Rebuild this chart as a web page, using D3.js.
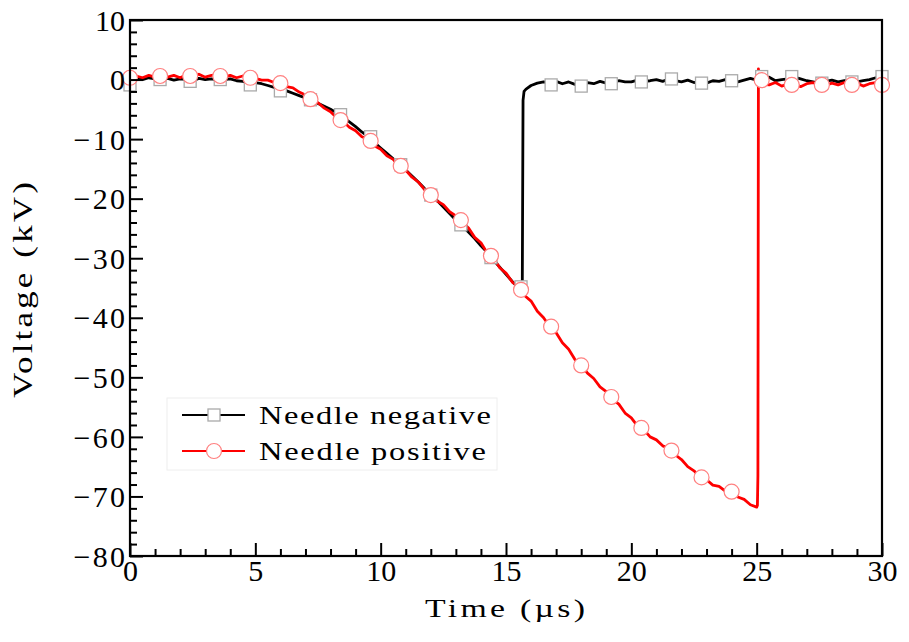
<!DOCTYPE html>
<html><head><meta charset="utf-8">
<script src="https://cdn.jsdelivr.net/npm/d3@7"></script>
<style>body{margin:0;background:#fff}svg{display:block}text{font-family:"Liberation Serif","DejaVu Serif",serif;fill:#000}</style>
</head><body><svg id="c" width="909" height="642"></svg>
<script>
// ---- data ----
const xTicks = [0,5,10,15,20,25,30];
const yTicks = [10,0,-10,-20,-30,-40,-50,-60,-70,-80];
const seriesNames = ["Needle negative","Needle positive"];
const xTitle = "Time (\u00b5s)";
const yTitle = "Voltage (kV)";

const negTime = [0,0.25,0.5,0.75,1,1.25,1.5,1.75,2,2.25,2.5,2.75,3,3.25,3.5,3.75,4,4.25,4.5,4.75,5,5.25,5.5,5.75,6,6.25,6.5,6.75,7,7.25,7.5,7.75,8,8.25,8.5,8.75,9,9.25,9.5,9.75,10,10.25,10.5,10.75,11,11.25,11.5,11.75,12,12.25,12.5,12.75,13,13.25,13.5,13.75,14,14.25,14.5,14.75,15,15.25,15.5,15.6,15.65,15.68,15.72,15.8,16,16.25,16.5,16.75,17,17.25,17.5,17.75,18,18.25,18.5,18.75,19,19.25,19.5,19.75,20,20.25,20.5,20.75,21,21.25,21.5,21.75,22,22.25,22.5,22.75,23,23.25,23.5,23.75,24,24.25,24.5,24.75,25,25.25,25.5,25.75,26,26.25,26.5,26.75,27,27.25,27.5,27.75,28,28.25,28.5,28.75,29,29.25,29.5,29.75,30];
const negVolt = [-0.3,0.2,0.0,0.3,0.1,0.0,0.2,-0.1,0.1,0.0,-0.2,0.2,0.0,0.1,-0.1,0.0,0.1,-0.2,-0.3,-0.6,-0.5,-0.7,-1.0,-1.3,-1.7,-1.9,-2.3,-2.7,-3.1,-3.5,-4.0,-4.5,-5.0,-5.6,-6.3,-7.1,-7.9,-8.8,-9.6,-10.6,-11.5,-12.4,-13.3,-14.2,-15.2,-16.2,-17.2,-18.3,-19.3,-20.3,-21.4,-22.5,-23.6,-24.6,-25.6,-26.7,-27.9,-29.0,-30.3,-31.5,-32.7,-33.9,-35.0,-35.8,-34.5,-3.5,-2.0,-1.6,-1.0,-0.6,-0.4,-0.6,-0.3,-0.7,-0.4,-0.8,-0.9,-0.5,-0.7,-0.3,-0.6,-0.5,-0.2,-0.4,-0.4,-0.1,-0.3,-0.2,0.0,-0.3,0.1,-0.2,-0.4,-0.1,-0.5,-0.3,-0.6,-0.2,-0.3,0.0,-0.2,-0.4,-0.1,0.2,-0.1,0.3,0.4,-0.2,0.0,0.1,0.4,0.1,-0.2,-0.4,-0.6,-0.3,-0.1,-0.4,-0.2,-0.1,-0.4,-0.2,0.0,0.3,0.5];

const posTime = [0,0.25,0.5,0.75,1,1.25,1.5,1.75,2,2.25,2.5,2.75,3,3.25,3.5,3.75,4,4.25,4.5,4.75,5,5.25,5.5,5.75,6,6.25,6.5,6.75,7,7.25,7.5,7.75,8,8.25,8.5,8.75,9,9.25,9.5,9.75,10,10.25,10.5,10.75,11,11.25,11.5,11.75,12,12.25,12.5,12.75,13,13.25,13.5,13.75,14,14.25,14.5,14.75,15,15.25,15.5,15.75,16,16.25,16.5,16.75,17,17.25,17.5,17.75,18,18.25,18.5,18.75,19,19.25,19.5,19.75,20,20.25,20.5,20.75,21,21.25,21.5,21.75,22,22.25,22.5,22.75,23,23.25,23.5,23.75,24,24.25,24.5,24.75,25,25.03,25.05,25.07,25.12,25.25,25.5,25.75,26,26.25,26.5,26.75,27,27.25,27.5,27.75,28,28.25,28.5,28.75,29,29.25,29.5,29.75,30];
const posVolt = [0.3,0.6,0.3,0.7,0.4,0.8,0.4,0.7,0.3,0.8,0.5,0.9,0.4,0.7,0.8,0.4,0.7,0.3,0.6,0.3,0.2,-0.1,-0.1,-0.5,-0.6,-1.2,-1.4,-2.1,-2.6,-3.4,-3.9,-4.8,-5.4,-6.4,-7.0,-8.0,-8.6,-9.6,-10.0,-11.1,-11.7,-12.8,-13.4,-14.6,-15.2,-16.4,-17.2,-18.5,-19.2,-20.4,-21.0,-22.2,-22.9,-24.0,-24.9,-26.5,-27.4,-29.1,-30.0,-31.6,-32.5,-34.0,-34.8,-36.3,-37.2,-38.9,-40.0,-41.5,-42.5,-44.2,-45.3,-47.0,-47.9,-49.3,-50.2,-51.6,-52.4,-53.7,-54.5,-56.0,-56.8,-58.2,-58.8,-60.0,-60.5,-61.5,-61.9,-63.0,-63.8,-65.0,-65.7,-66.8,-67.2,-68.1,-68.3,-69.1,-69.2,-70.1,-70.5,-71.4,-71.8,-71.5,-66.5,1.8,-0.6,-0.8,-0.9,-0.5,-1.1,-0.7,-0.6,-1.2,-0.7,-0.5,-1.0,-1.0,-0.6,-0.9,-0.5,-1.0,-0.6,-1.1,-0.7,-0.5,-1.0,-0.6,-0.8];

const markerTime = [0,1.2,2.4,3.6,4.8,6.0,7.2,8.4,9.6,10.8,12,13.2,14.4,15.6,16.8,18,19.2,20.4,21.6,22.8,24,25.2,26.4,27.6,28.8,30];
const negMarkerVolt = [-0.9,0.0,-0.3,0.0,-0.9,-1.9,-3.4,-5.9,-9.6,-14.3,-19.4,-24.4,-29.9,-34.8,-0.9,-1.1,-0.7,-0.4,0.1,-0.6,-0.2,0.5,0.5,-0.6,-0.4,0.5];
const posMarkerVolt = [0.3,0.6,0.6,0.6,0.3,-0.6,-3.3,-6.8,-10.3,-14.5,-19.4,-23.6,-29.6,-35.3,-41.5,-48.0,-53.3,-58.5,-62.3,-66.8,-69.2,-0.1,-0.9,-0.9,-0.9,-0.9];

// ---- chart ----
const svg = d3.select("#c");
const L=130, R=882, T=20, B=556;
const x = d3.scaleLinear().domain([0,30]).range([L,R]);
const y = d3.scaleLinear().domain([-80,10]).range([B,T]);

svg.append("defs").append("clipPath").attr("id","pc")
  .append("rect").attr("x",L).attr("y",T).attr("width",R-L).attr("height",B-T);

const line = d3.line().x(d=>x(d[0])).y(d=>y(d[1]));
const negData = negTime.map((t,i)=>[t,negVolt[i]]);
const posData = posTime.map((t,i)=>[t,posVolt[i]]);

const g = svg.append("g").attr("clip-path","url(#pc)");
g.append("path").datum(negData).attr("d",line).attr("fill","none").attr("stroke","#000").attr("stroke-width",2.8).attr("stroke-linejoin","round");
g.append("path").datum(posData).attr("d",line).attr("fill","none").attr("stroke","#ff0000").attr("stroke-width",2.8).attr("stroke-linejoin","round");

const sq = 12;
svg.append("g").selectAll("rect").data(markerTime.map((t,i)=>[t,negMarkerVolt[i]])).join("rect")
  .attr("x",d=>x(d[0])-sq/2).attr("y",d=>y(d[1])-sq/2).attr("width",sq).attr("height",sq)
  .attr("fill","#fff").attr("stroke","#aaaaaa").attr("stroke-width",1.3);
svg.append("g").selectAll("circle").data(markerTime.map((t,i)=>[t,posMarkerVolt[i]])).join("circle")
  .attr("cx",d=>x(d[0])).attr("cy",d=>y(d[1])).attr("r",7.5)
  .attr("fill","#fff").attr("stroke","#ff8080").attr("stroke-width",1.2);

// axes
const fs = 30;
const fmt = v => v<0 ? "\u2212"+Math.abs(v) : String(v);
const labW = v => (v<0 ? 0.72*fs : 0) + String(Math.abs(v)).length*0.5*fs;
const xAxis = svg.append("g").attr("transform",`translate(0,${B})`)
  .call(d3.axisBottom(x).tickValues(xTicks).tickFormat(fmt).tickSizeInner(-13).tickSizeOuter(0).tickPadding(25));
const xMinor = svg.append("g").attr("transform",`translate(0,${B})`)
  .call(d3.axisBottom(x).tickValues(d3.range(0,31,1).filter(v=>v%5!==0)).tickFormat("").tickSizeInner(-7).tickSizeOuter(0));
const yAxis = svg.append("g").attr("transform",`translate(${L},0)`)
  .call(d3.axisLeft(y).tickValues(yTicks).tickFormat(fmt).tickSizeInner(-13).tickSizeOuter(0).tickPadding(5));
const yMinor = svg.append("g").attr("transform",`translate(${L},0)`)
  .call(d3.axisLeft(y).tickValues(d3.range(-80,11,2).filter(v=>v%10!==0)).tickFormat("").tickSizeInner(-7).tickSizeOuter(0));
[xAxis,xMinor,yAxis,yMinor].forEach(a=>{a.select(".domain").remove();a.selectAll("line").attr("stroke","#000").attr("stroke-width",2);});
xAxis.selectAll("text").attr("font-size",fs).attr("dy","0");
yAxis.selectAll("text").attr("font-size",fs).attr("dy","0.34em")
  .attr("textLength",d=>labW(d)).attr("lengthAdjust","spacing");

svg.append("rect").attr("x",L).attr("y",T).attr("width",R-L).attr("height",B-T).attr("fill","none").attr("stroke","#000").attr("stroke-width",2.2);

// fit text to a target width: stretch glyphs moderately, then spread the rest
function fitText(sel, target, tf, maxS){
  const nat = sel.node().getComputedTextLength();
  const s = Math.min(maxS, target/nat);
  sel.attr("transform", tf + ` scale(${s},1)`);
  if (target/s > nat + 0.5) sel.attr("textLength", target/s).attr("lengthAdjust","spacing");
}
const tx = svg.append("text").attr("text-anchor","middle").attr("font-size",26).text(xTitle);
fitText(tx,160,"translate(505,617)",1.3);
const ty = svg.append("text").attr("text-anchor","middle").attr("font-size",27).text(yTitle);
fitText(ty,216,"translate(32,290) rotate(-90)",1.3);

// legend
const lg = svg.append("g");
lg.append("rect").attr("x",167).attr("y",398).attr("width",330).attr("height",72).attr("fill","#fff").attr("stroke","#eeeeee").attr("stroke-width",1);
const rows=[{y:415,c:"#000",m:"sq"},{y:451,c:"#ff0000",m:"ci"}];
const legW=[232,227];
rows.forEach((r,i)=>{
  lg.append("line").attr("x1",182).attr("x2",245).attr("y1",r.y).attr("y2",r.y).attr("stroke",r.c).attr("stroke-width",2);
  if(r.m==="sq") lg.append("rect").attr("x",214-6).attr("y",r.y-6).attr("width",12).attr("height",12).attr("fill","#fff").attr("stroke","#aaa").attr("stroke-width",1.3);
  else lg.append("circle").attr("cx",214).attr("cy",r.y).attr("r",7.5).attr("fill","#fff").attr("stroke","#ff8080").attr("stroke-width",1.2);
  const t = lg.append("text").attr("font-size",25).text(seriesNames[i]);
  fitText(t, legW[i], `translate(259,${r.y+9})`, 1.3);
});
</script></body></html>
